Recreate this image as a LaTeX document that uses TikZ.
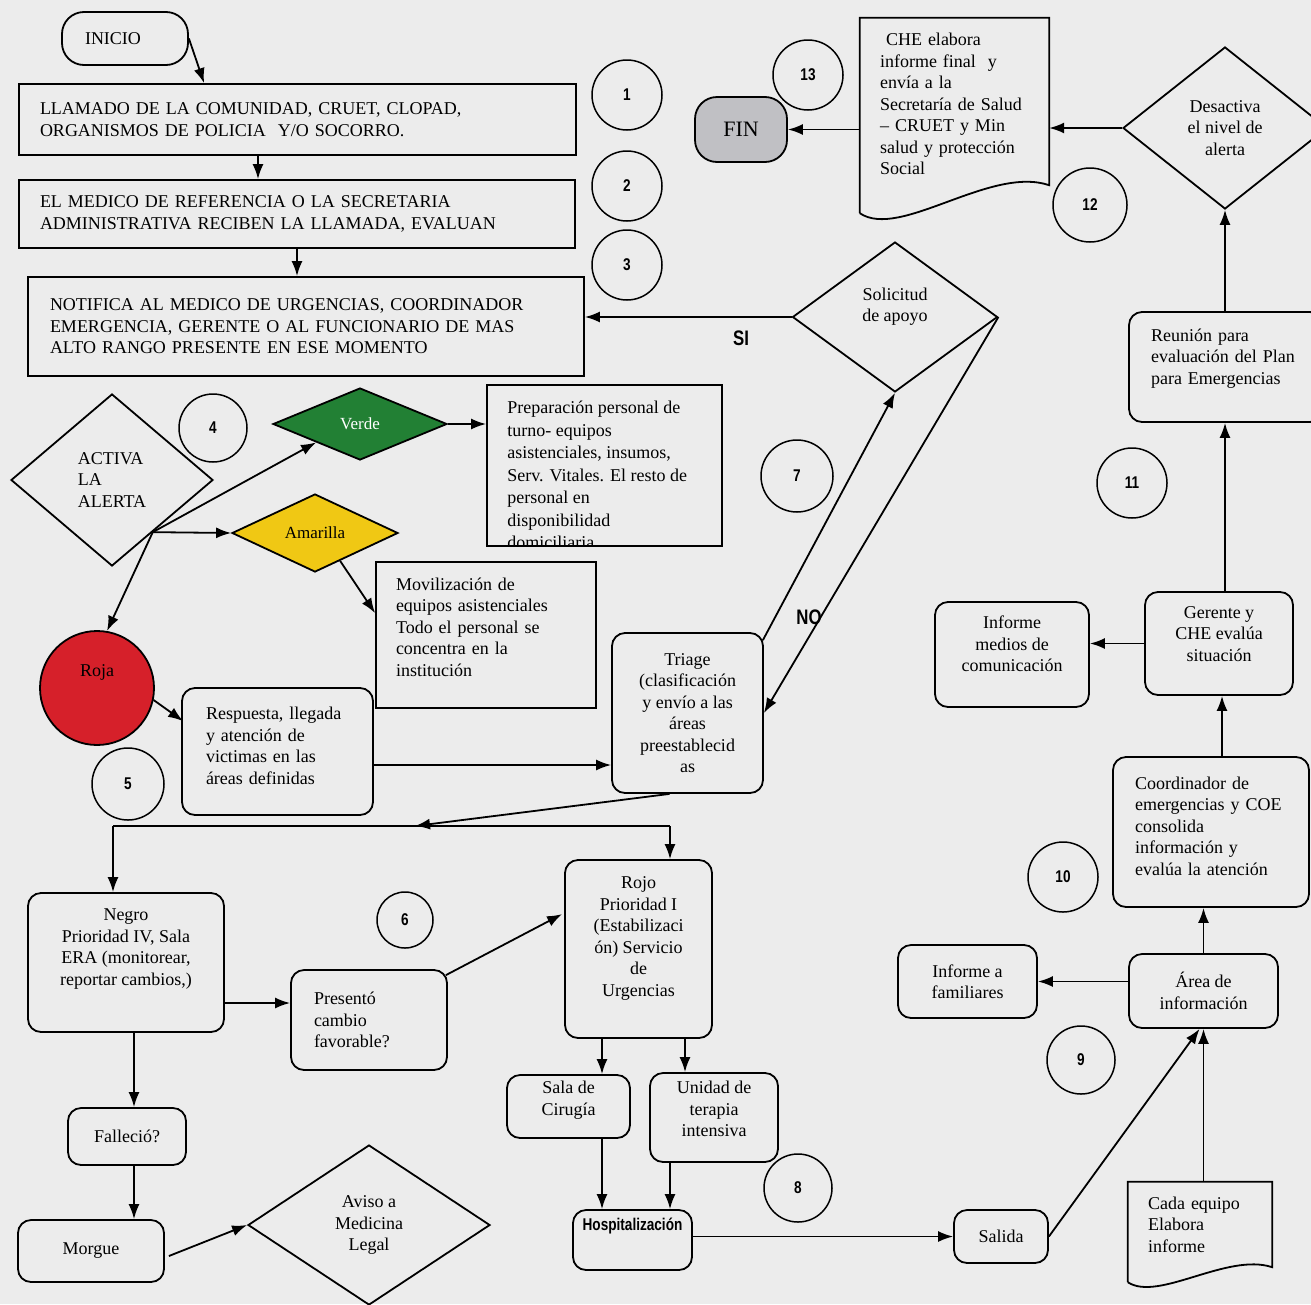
\documentclass[tikz,border=0pt]{standalone}
\usepackage{fontspec}
\setmainfont{Liberation Serif}
\newfontfamily\narrowsans[FakeStretch=0.8]{Liberation Sans}
\usetikzlibrary{arrows.meta,shapes.geometric,calc}

\definecolor{paper}{RGB}{236,236,236}
\definecolor{alertgreen}{RGB}{34,128,52}
\definecolor{alertyellow}{RGB}{240,200,20}
\definecolor{alertred}{RGB}{214,32,42}
\definecolor{fingray}{RGB}{192,192,196}

% document symbol: straight top and sides, wavy bottom edge
% #1 node, #2 left drop, #3 left control, #4 right control, #5 right drop
\newcommand\drawdocument[5]{%
  \draw[stroke] ($(#1.south west)+(0,#2)$) -- (#1.north west) -- (#1.north east)
    -- ($(#1.south east)+(0,#5)$)
    .. controls ($(#1.south west)!0.69!(#1.south east)+(0,#4)$)
            and ($(#1.south west)!0.21!(#1.south east)+(0,#3)$)
    .. ($(#1.south west)+(0,#2)$);}

\begin{document}
\begin{tikzpicture}[x=1pt,y=-1pt,
  every node/.style={inner sep=0pt, font=\fontsize{18}{21.5}\selectfont},
  stroke/.style={line width=1.8pt},
  sqbox/.style={draw, stroke, rectangle},
  rbox/.style={draw, stroke, rectangle, rounded corners=13pt},
  dia/.style={draw, stroke, diamond, align=center},
  numc/.style={draw, circle, line width=1.5pt, minimum size=#1,
               font=\narrowsans\bfseries\fontsize{17}{17}\selectfont},
  numc/.default=70pt,
  arr/.style={stroke, -{Latex[length=15pt,width=11pt]}},
  tag/.style={font=\narrowsans\bfseries\fontsize{21}{21}\selectfont},
  dims/.style 2 args={minimum width=#1, minimum height=#2},
  lt/.style={align=left, text width=#1},
]
\fill[paper] (0,0) rectangle (1311,1304);
\useasboundingbox (0,0) rectangle (1311,1304);

% ---------- top: call reception ----------
\node[rbox, rounded corners=22pt, dims={126pt}{53pt}] (inicio) at (125,38.5) {INICIO\hspace*{24pt}};
\node[sqbox, dims={557pt}{71pt}, inner xsep=21pt, lt=515pt] (box1) at (297.5,119.5)
  {LLAMADO DE LA COMUNIDAD, CRUET, CLOPAD,\\ORGANISMOS DE POLICIA\ \ Y/O SOCORRO.};
\node[sqbox, dims={556pt}{68pt}, inner xsep=21pt, lt=514pt] (box2) at (297,214)
  {EL MEDICO DE REFERENCIA O LA SECRETARIA\\ADMINISTRATIVA RECIBEN LA LLAMADA, EVALUAN};
\node[sqbox, dims={556pt}{99pt}, inner xsep=22pt, lt=512pt] (box3) at (306,326.5)
  {NOTIFICA AL MEDICO DE URGENCIAS, COORDINADOR\\EMERGENCIA, GERENTE O AL FUNCIONARIO DE MAS\\ALTO RANGO PRESENTE EN ESE MOMENTO};

% ---------- step numbers ----------
\node[numc] (n1) at (627,95) {1};
\node[numc] (n2) at (627,186) {2};
\node[numc] (n3) at (627,265) {3};
\node[numc=68pt] (n4) at (213,428) {4};
\node[numc=72pt] (n5) at (128,784) {5};
\node[numc=56pt] (n6) at (405,920) {6};
\node[numc=72pt] (n7) at (797,476) {7};
\node[numc=68pt] (n8) at (798,1188) {8};
\node[numc=68pt] (n9) at (1081,1060) {9};
\node[numc] (n10) at (1063,877) {10};
\node[numc] (n11) at (1132,483) {11};
\node[numc=74pt] (n12) at (1090,205) {12};
\node[numc] (n13) at (808,75) {13};

% ---------- alert levels ----------
\node[dia, dims={202pt}{172pt}, align=left] (activa) at (112,480) {ACTIVA\\LA\\ALERTA};
\node[dia, fill=alertgreen, text=white, dims={174pt}{72pt}, font=\fontsize{17}{17}\selectfont] (verde) at (360,424) {Verde};
\node[dia, fill=alertyellow, dims={166pt}{78pt}, font=\fontsize{17}{17}\selectfont] (amar) at (315,533) {Amarilla};
\node[draw, stroke, circle, fill=alertred, minimum size=114pt, text depth=35pt] (roja) at (97,688) {Roja};

\node[sqbox, dims={235pt}{161pt}] (prep) at (604.5,465.5) {};
\begin{scope}
  \clip (prep.south west) rectangle (prep.north east);
  \node[anchor=north west, align=left, font=\fontsize{18}{22.5}\selectfont] (preptext)
    at ($(prep.north west)+(21,17)$)
    {Preparación personal de\\turno- equipos\\asistenciales, insumos,\\Serv. Vitales. El resto de\\personal en\\disponibilidad\\domiciliaria};
\end{scope}
\node[sqbox, dims={220pt}{146pt}, inner xsep=20pt, lt=180pt, text depth=102pt] (mov) at (486,635)
  {Movilización de\\equipos asistenciales\\Todo el personal se\\concentra en la\\institución};

\node[rbox, dims={191pt}{127pt}, inner xsep=24pt, lt=143pt, text depth=76pt] (resp) at (277.5,751.5)
  {Respuesta, llegada\\y atención de\\victimas en las\\áreas definidas};
\node[rbox, dims={151pt}{160pt}, align=center] (triage) at (687.5,713)
  {Triage\\(clasificación\\y envío a las\\áreas\\preestablecid\\as};

\node[dia, dims={205pt}{150pt}, text depth=25pt] (sol) at (895,317) {Solicitud\\de apoyo};
\node[tag] (si) at (741,338) {SI};
\node[tag] (no) at (809,617) {NO};

% ---------- triage outcomes ----------
\coordinate (split) at (415,826);
\coordinate (splitL) at (113,826);
\coordinate (splitR) at (670,826);

\node[rbox, dims={196pt}{139pt}, align=center, text depth=31pt] (negro) at (126,962.5)
  {Negro\\Prioridad IV, Sala\\ERA (monitorear,\\reportar cambios,)};
\node[rbox, dims={156pt}{100pt}, inner xsep=23pt, lt=110pt] (pres) at (369,1020)
  {Presentó\\cambio\\favorable?};
\node[rbox, dims={147pt}{178pt}, align=center, text depth=25pt] (rojo) at (638.5,949)
  {Rojo\\Prioridad I\\(Estabilizaci\\ón) Servicio\\de\\Urgencias};
\node[rbox, dims={118pt}{57pt}] (fall) at (127,1136.5) {Falleció?};
\node[rbox, dims={146pt}{62pt}] (morgue) at (91,1251) {Morgue};
\node[dia, dims={242pt}{160pt}] (aviso) at (369,1225) {Aviso a\\Medicina\\Legal};
\node[rbox, dims={123pt}{63pt}, align=center, text depth=17pt] (sala) at (568.5,1106.5) {Sala de\\Cirugía};
\node[rbox, dims={128pt}{89pt}, align=center, text depth=17pt] (uti) at (714,1117.5) {Unidad de\\terapia\\intensiva};
\node[rbox, dims={119pt}{60pt}, text depth=31pt, font=\narrowsans\bfseries\fontsize{17}{17}\selectfont] (hosp) at (632.5,1240) {Hospitalización};
\node[rbox, dims={94pt}{53pt}] (salida) at (1001,1236.5) {Salida};

% ---------- information and closing ----------
\node[dims={144pt}{85pt}, inner xsep=20pt, lt=104pt] (cada) at (1200,1224.5) {Cada equipo\\Elabora\\informe};
\drawdocument{cada}{15}{35}{-15}{0}
\node[rbox, dims={149pt}{74pt}, align=center] (area) at (1203.5,991) {Área de\\información};
\node[rbox, dims={139pt}{73pt}, align=center] (fam) at (967.5,981.5) {Informe a\\familiares};
\node[rbox, dims={196pt}{150pt}, inner xsep=22pt, lt=152pt, text depth=98pt] (coord) at (1211,832)
  {Coordinador de\\emergencias y COE\\consolida\\información y\\evalúa la atención};
\node[rbox, dims={148pt}{103pt}, align=center, text depth=19pt] (ger) at (1219,643.5) {Gerente y\\CHE evalúa\\situación};
\node[rbox, dims={154pt}{105pt}, align=center, text depth=21pt] (medios) at (1012,654.5) {Informe\\medios de\\comunicación};
\node[rbox, dims={194pt}{110pt}, inner xsep=22pt, lt=150pt, text depth=64pt] (reun) at (1226,367)
  {Reunión para\\evaluación del Plan\\para Emergencias};
\node[dia, dims={204pt}{162pt}] (desac) at (1225,128) {Desactiva\\el nivel de\\alerta};
\node[dims={189pt}{172pt}, inner xsep=20pt, lt=149pt] (che) at (954.5,104)
  {\ CHE elabora\\informe final\ \ y\\envía a la\\Secretaría de Salud\\– CRUET y Min\\salud y protección\\Social};
\drawdocument{che}{23}{50}{-25}{-5}
\node[rbox, rounded corners=22pt, fill=fingray, dims={92pt}{65pt}, font=\fontsize{22}{22}\selectfont] (fin) at (741,129.5) {FIN};

% ---------- connectors ----------
\draw[arr] (inicio.east) -- ($(box1.north west)+(186,0)$);
\draw[arr] (258,0 |- box1.south) -- (258,0 |- box2.north);
\draw[arr] (297,0 |- box2.south) -- (297,0 |- box3.north);
\draw[arr] (sol.west) -- (sol.west -| box3.east);

\coordinate (fan) at ($(activa.east)!0.6!(activa.south)$);
\draw[arr] (fan) -- (verde.south west);
\draw[arr] (fan) -- (amar.west);
\draw[arr] (fan) -- (roja.80);
\draw[arr] (verde.east) -- (verde.east -| prep.west);
\draw[arr] ($(amar.south)!0.3!(amar.east)$) -- ($(mov.north west)+(0,52)$);
\draw[arr] (roja.-12) -- ($(resp.north west)+(2,34)$);
\draw[arr] (resp.east |- 0,765) -- (triage.west |- 0,765);

\draw[arr] ($(triage.north east)+(-1,8)$) -- (sol.south);
\draw[arr] (sol.east) -- (triage.east);

\draw[arr] ($(triage.south)+(-18,0)$) -- (split);
\draw[stroke] (splitL) -- (splitR);
\draw[arr] (splitL) -- (splitL |- negro.north);
\draw[arr] (splitR) -- (splitR |- rojo.north);

\draw[arr] (negro.east |- 0,1003) -- (pres.west |- 0,1003);
\draw[arr] ($(pres.north east)+(-2,6)$) -- ($(rojo.north west)+(-2,55)$);
\draw[arr] (134,0 |- negro.south) -- (134,0 |- fall.north);
\draw[arr] (134,0 |- fall.south) -- (134,0 |- morgue.north);
\draw[arr] ($(morgue.east)+(4,5)$) -- (aviso.west);

\draw[arr] (602,0 |- rojo.south) -- (602,0 |- sala.north);
\draw[arr] (685,0 |- rojo.south) -- (685,0 |- uti.north);
\draw[arr] (602,0 |- sala.south) -- (602,0 |- hosp.north);
\draw[arr] (670,0 |- uti.south) -- (670,0 |- hosp.north);
\draw[arr] (hosp.east |- salida.west) -- (salida.west);

\draw[arr] (salida.east) -- ($(area.south)+(-4,0)$);
\draw[arr] (area.south |- cada.north) -- (area.south);
\draw[arr] (area.west |- fam.east) -- (fam.east);
\draw[arr] (area.north) -- (area.north |- coord.south);
\draw[arr] (1222,0 |- coord.north) -- (1222,0 |- ger.south);
\draw[arr] (ger.west) -- (ger.west -| medios.east);
\draw[arr] (1225,0 |- ger.north) -- (1225,0 |- reun.south);
\draw[arr] (desac.south |- reun.north) -- (desac.south);
\draw[arr] (desac.west) -- (desac.west -| che.east);
\draw[arr] (fin.east -| che.west) -- (fin.east);
\end{tikzpicture}
\end{document}
